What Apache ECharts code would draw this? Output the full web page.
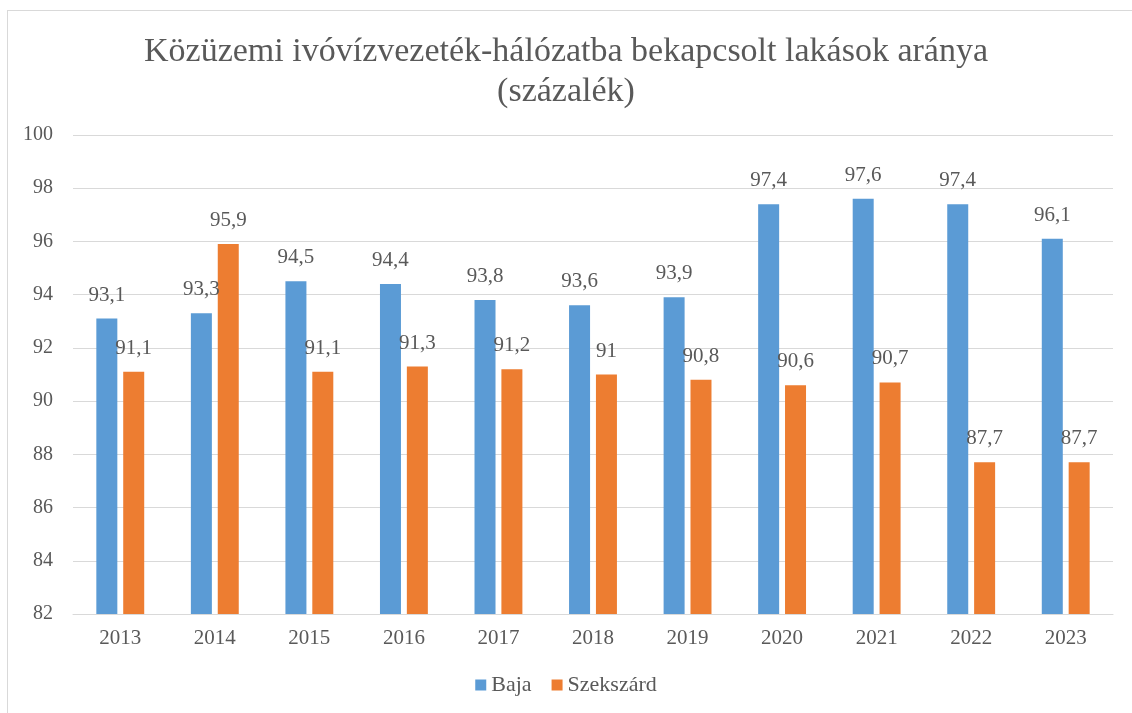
<!DOCTYPE html>
<html>
<head>
<meta charset="utf-8">
<script src="https://cdn.jsdelivr.net/npm/echarts@6/dist/echarts.min.js"></script>
<style>
html,body{margin:0;padding:0;background:#fff;}
#frame{position:absolute;left:7px;top:10px;width:1130px;height:710px;border:1px solid #d9d9d9;box-sizing:border-box;}
#main{position:absolute;left:0;top:0;width:1132px;height:713px;}
</style>
</head>
<body>
<div id="frame"></div>
<div id="main"></div>
<script>
// adatok
var years = ['2013','2014','2015','2016','2017','2018','2019','2020','2021','2022','2023'];
var baja = [93.1, 93.3, 94.5, 94.4, 93.8, 93.6, 93.9, 97.4, 97.6, 97.4, 96.1];
var szekszard = [91.1, 95.9, 91.1, 91.3, 91.2, 91, 90.8, 90.6, 90.7, 87.7, 87.7];

var serif = '"Liberation Serif", "DejaVu Serif", serif';
var txtColor = '#595959';

function fmt(p) {
    return String(p.value).replace('.', ',');
}

var myChart = echarts.init(document.getElementById('main'));
var option = {
    animation: false,
    title: {
        text: 'Közüzemi ivóvízvezeték-hálózatba bekapcsolt lakások aránya\n(százalék)',
        left: 'center',
        top: 27,
        textStyle: {
            fontFamily: serif,
            fontSize: 34,
            fontWeight: 'normal',
            color: txtColor,
            lineHeight: 40
        }
    },
    legend: {
        data: ['Baja', 'Szekszárd'],
        bottom: 12,
        left: 'center',
        itemWidth: 11,
        itemHeight: 11,
        itemGap: 20,
        icon: 'rect',
        textStyle: {
            fontFamily: serif,
            fontSize: 22,
            color: txtColor
        }
    },
    grid: {
        left: 73,
        right: 19,
        top: 135,
        bottom: 99
    },
    xAxis: {
        type: 'category',
        data: years,
        axisLine: { lineStyle: { color: '#d9d9d9' } },
        axisTick: { show: false },
        axisLabel: {
            fontFamily: serif,
            fontSize: 21,
            color: txtColor,
            margin: 14
        }
    },
    yAxis: {
        type: 'value',
        min: 82,
        max: 100,
        interval: 2,
        axisLine: { show: false },
        axisTick: { show: false },
        splitLine: { lineStyle: { color: '#d9d9d9' } },
        axisLabel: {
            fontFamily: serif,
            fontSize: 20,
            color: txtColor,
            margin: 20
        }
    },
    series: [
        {
            name: 'Baja',
            type: 'bar',
            data: baja,
            barWidth: 21,
            barGap: '28%',
            itemStyle: { color: '#5b9bd5' },
            label: {
                show: true,
                position: 'top',
                distance: 13,
                formatter: fmt,
                fontFamily: serif,
                fontSize: 21,
                color: txtColor
            }
        },
        {
            name: 'Szekszárd',
            type: 'bar',
            data: szekszard,
            barWidth: 21,
            itemStyle: { color: '#ed7d31' },
            label: {
                show: true,
                position: 'top',
                distance: 13,
                formatter: fmt,
                fontFamily: serif,
                fontSize: 21,
                color: txtColor
            }
        }
    ]
};
myChart.setOption(option);
</script>
</body>
</html>
